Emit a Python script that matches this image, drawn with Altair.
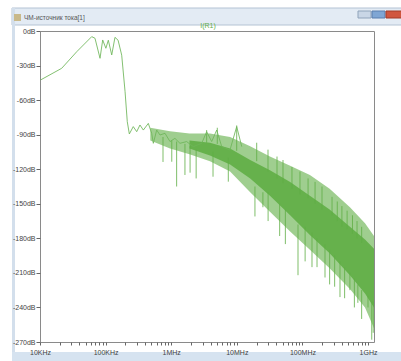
import math
import altair as alt
import pandas as pd

# ---- data ----
trace_freq = [1.02e4, 2.14e4, 3.63e4, 6.14e4, 6.89e4, 8.22e4, 9.03e4, 1.01e5, 1.10e5,
              1.24e5, 1.39e5, 1.55e5, 1.76e5, 1.98e5, 2.14e5, 2.30e5, 2.64e5, 2.98e5,
              3.34e5, 3.76e5, 4.48e5, 5.04e5, 5.34e5, 6.01e5, 6.75e5, 8.04e5, 9.59e5,
              1.14e6, 1.36e6, 1.72e6, 2.17e6, 2.92e6, 3.47e6, 4.14e6, 4.94e6, 5.89e6,
              7.87e6, 9.96e6, 1.19e7]
trace_db = [-42.5, -32.4, -18.0, -4.9, -6.3, -23.7, -7.8, -15.0, -8.0,
            -20.8, -5.5, -8.0, -21.0, -52.7, -78.7, -89.4, -83.0, -87.4,
            -81.6, -86.0, -80.2, -88.8, -97.5, -86.0, -90.3, -88.8, -96.0,
            -93.2, -97.5, -96.0, -100.4, -97.5, -87.4, -96.0, -86.0, -100.4,
            -103.3, -83.0, -100.4]

outer_freq = [4.8e5, 9.6e5, 1.9e6, 3.9e6, 7.9e6, 1.6e7, 3.2e7, 6.5e7, 1.3e8,
              2.6e8, 5.3e8, 9.0e8, 1.234e9]
outer_hi = [-84, -87, -89, -89, -92, -100, -109, -117, -125, -137, -153, -167, -178]
outer_lo = [-95, -102, -107, -113, -122, -140, -157, -174, -190, -206, -224, -240, -258]

inner_freq = [1.9e6, 3.9e6, 7.9e6, 1.6e7, 3.2e7, 6.5e7, 1.3e8, 2.6e8, 5.3e8, 9.0e8, 1.234e9]
inner_hi = [-95, -97, -102, -112, -121, -131, -143, -155, -170, -181, -189]
inner_lo = [-102, -108, -116, -128, -143, -160, -177, -193, -212, -228, -240]

spike_freq = [7.5e5, 1.02e6, 1.21e6, 1.62e6, 1.94e6, 2.4e6, 4.34e6, 7.42e6, 1.89e7,
              2.5e7, 8.57e7, 1.67e8, 2.21e8, 3.74e8, 5.3e8, 1.0e9, 1.14e9,
              3.0e7, 4.5e7, 5.5e7, 1.1e8, 1.4e8, 2.6e8, 3.1e8, 4.4e8, 6.2e8,
              7.0e8, 8.0e8, 1.2e9,
              3.47e6, 5.04e6, 9.96e6, 2.01e7, 2.99e7, 4.1e7, 5.06e7, 6.93e7,
              9.18e7, 1.22e8, 1.56e8, 1.99e8, 2.83e8, 3.4e8, 4.0e8, 4.8e8,
              5.8e8, 6.8e8, 8.0e8]
spike_top = [-92, -95, -96, -98, -100, -103, -105, -110, -135,
             -140, -168, -180, -185, -200, -210, -230, -235,
             -140, -150, -155, -170, -175, -190, -195, -205, -215,
             -220, -225, -235,
             -86, -84, -82, -97, -103, -109, -112, -118,
             -122, -128, -131, -135, -144, -148, -152, -156,
             -160, -165, -170]
spike_bot = [-113.7, -113.5, -135, -125, -123, -128, -126.5, -130.8, -161,
             -153, -212, -205, -214, -231, -225, -240, -268,
             -165, -178, -185, -200, -205, -220, -222, -232, -240,
             -236, -250, -262,
             -97, -98, -104, -113, -122, -128, -132, -137,
             -142, -145, -150, -155, -160, -165, -170, -172,
             -176, -180, -184]

major_ticks = [1e4, 1e5, 1e6, 1e7, 1e8, 1e9]
major_labels = ["10KHz", "100KHz", "1MHz", "10MHz", "100MHz", "1GHz"]
minor_ticks = [m * d for d in major_ticks[:-1] for m in range(2, 10)]
y_ticks = list(range(-270, 1, 30))

window_title = "ЧМ-источник тока[1]"
trace_name = "I(R1)"

GREEN = "#5fae45"

trace = pd.DataFrame({"f": trace_freq, "db": trace_db})
outer = pd.DataFrame({"f": outer_freq, "hi": outer_hi, "lo": outer_lo})
inner = pd.DataFrame({"f": inner_freq, "hi": inner_hi, "lo": inner_lo})
spikes = pd.DataFrame({"f": spike_freq, "top": spike_top, "bot": spike_bot})
one = pd.DataFrame({"k": [0]})

xs = alt.Scale(type="log", domain=[1e4, 1.234e9], nice=False)
ys = alt.Scale(domain=[-270, 0], nice=False)

expr = "''"
for v, lab in reversed(list(zip(major_ticks, major_labels))):
    e = int(round(math.log10(v)))
    expr = (f"(abs(log(datum.value)/LN10 - {e}) < 0.01) ? '{lab}' : ({expr})")

x_axis = alt.Axis(values=major_ticks + minor_ticks, labelExpr=expr, tickSize=3,
                  tickColor="#666", domain=False, grid=False, title=None,
                  labelFontSize=7, labelColor="#444", labelFont="Liberation Sans",
                  labelPadding=3, labelOverlap=False, labelFlush=False, zindex=1)
y_axis = alt.Axis(values=y_ticks, labelExpr="datum.value + 'dB'", tickSize=4,
                  tickColor="#666", domain=False, grid=False, title=None,
                  labelFontSize=7, labelColor="#444", labelFont="Liberation Sans",
                  labelPadding=1, labelOverlap=False, labelFlush=False, zindex=1)

X = lambda: alt.X("f:Q", scale=xs, axis=x_axis)

# window chrome (decoration)
titlebar = alt.Chart(one).mark_rect(fill="#e3ebf4", stroke="#b4c3d4").encode(
    x=alt.value(-28), x2=alt.value(365), y=alt.value(-23), y2=alt.value(-6))
leftbar = alt.Chart(one).mark_rect(fill="#d3dfec").encode(
    x=alt.value(-28), x2=alt.value(-25), y=alt.value(-23), y2=alt.value(330))
bottombar = alt.Chart(one).mark_rect(fill="#d6e3f0").encode(
    x=alt.value(-28), x2=alt.value(365), y=alt.value(321), y2=alt.value(330))
btn_min = alt.Chart(one).mark_rect(fill="#c9d6e6", stroke="#8fa3ba").encode(
    x=alt.value(318), x2=alt.value(331), y=alt.value(-20), y2=alt.value(-13))
btn_max = alt.Chart(one).mark_rect(fill="#7fa6d4", stroke="#5a7fae").encode(
    x=alt.value(332), x2=alt.value(345), y=alt.value(-20), y2=alt.value(-13))
btn_close = alt.Chart(one).mark_rect(fill="#d0563f", stroke="#a33b28").encode(
    x=alt.value(346), x2=alt.value(365), y=alt.value(-20), y2=alt.value(-13))
icon = alt.Chart(one).mark_rect(fill="#c9b98a").encode(
    x=alt.value(-26), x2=alt.value(-19), y=alt.value(-17), y2=alt.value(-10))
wtitle = alt.Chart(one).mark_text(align="left", baseline="middle", fontSize=6.5,
                                  color="#555", font="Liberation Sans").encode(
    x=alt.value(-16), y=alt.value(-13), text=alt.value(window_title))
ttitle = alt.Chart(one).mark_text(align="center", baseline="middle", fontSize=7,
                                  color=GREEN, font="Liberation Sans").encode(
    x=alt.value(168), y=alt.value(-5), text=alt.value(trace_name))

outer_band = alt.Chart(outer).mark_area(color=GREEN, opacity=0.6).encode(
    x=X(), y=alt.Y("hi:Q", scale=ys, axis=y_axis), y2="lo:Q")
inner_band = alt.Chart(inner).mark_area(color=GREEN, opacity=0.9).encode(
    x=X(), y=alt.Y("hi:Q", scale=ys, axis=y_axis), y2="lo:Q")
spike_layer = alt.Chart(spikes).mark_rule(color=GREEN, strokeWidth=1, opacity=0.8).encode(
    x=X(), y=alt.Y("top:Q", scale=ys, axis=y_axis), y2="bot:Q")
trace_line = alt.Chart(trace).mark_line(color="#6db558", strokeWidth=1, opacity=0.85).encode(
    x=X(), y=alt.Y("db:Q", scale=ys, axis=y_axis))

chart = alt.layer(titlebar, leftbar, bottombar, btn_min, btn_max, btn_close, icon, wtitle,
                  ttitle, outer_band, inner_band, spike_layer, trace_line).properties(
    width=334, height=311,
    padding={"left": 40, "top": 31, "right": 27, "bottom": 19},
    autosize=alt.AutoSizeParams(type="none"),
    background="white",
).configure_view(stroke="#8a8a8a", strokeWidth=1)

chart.save("out.html", embed_options={"renderer": "svg", "actions": False})
